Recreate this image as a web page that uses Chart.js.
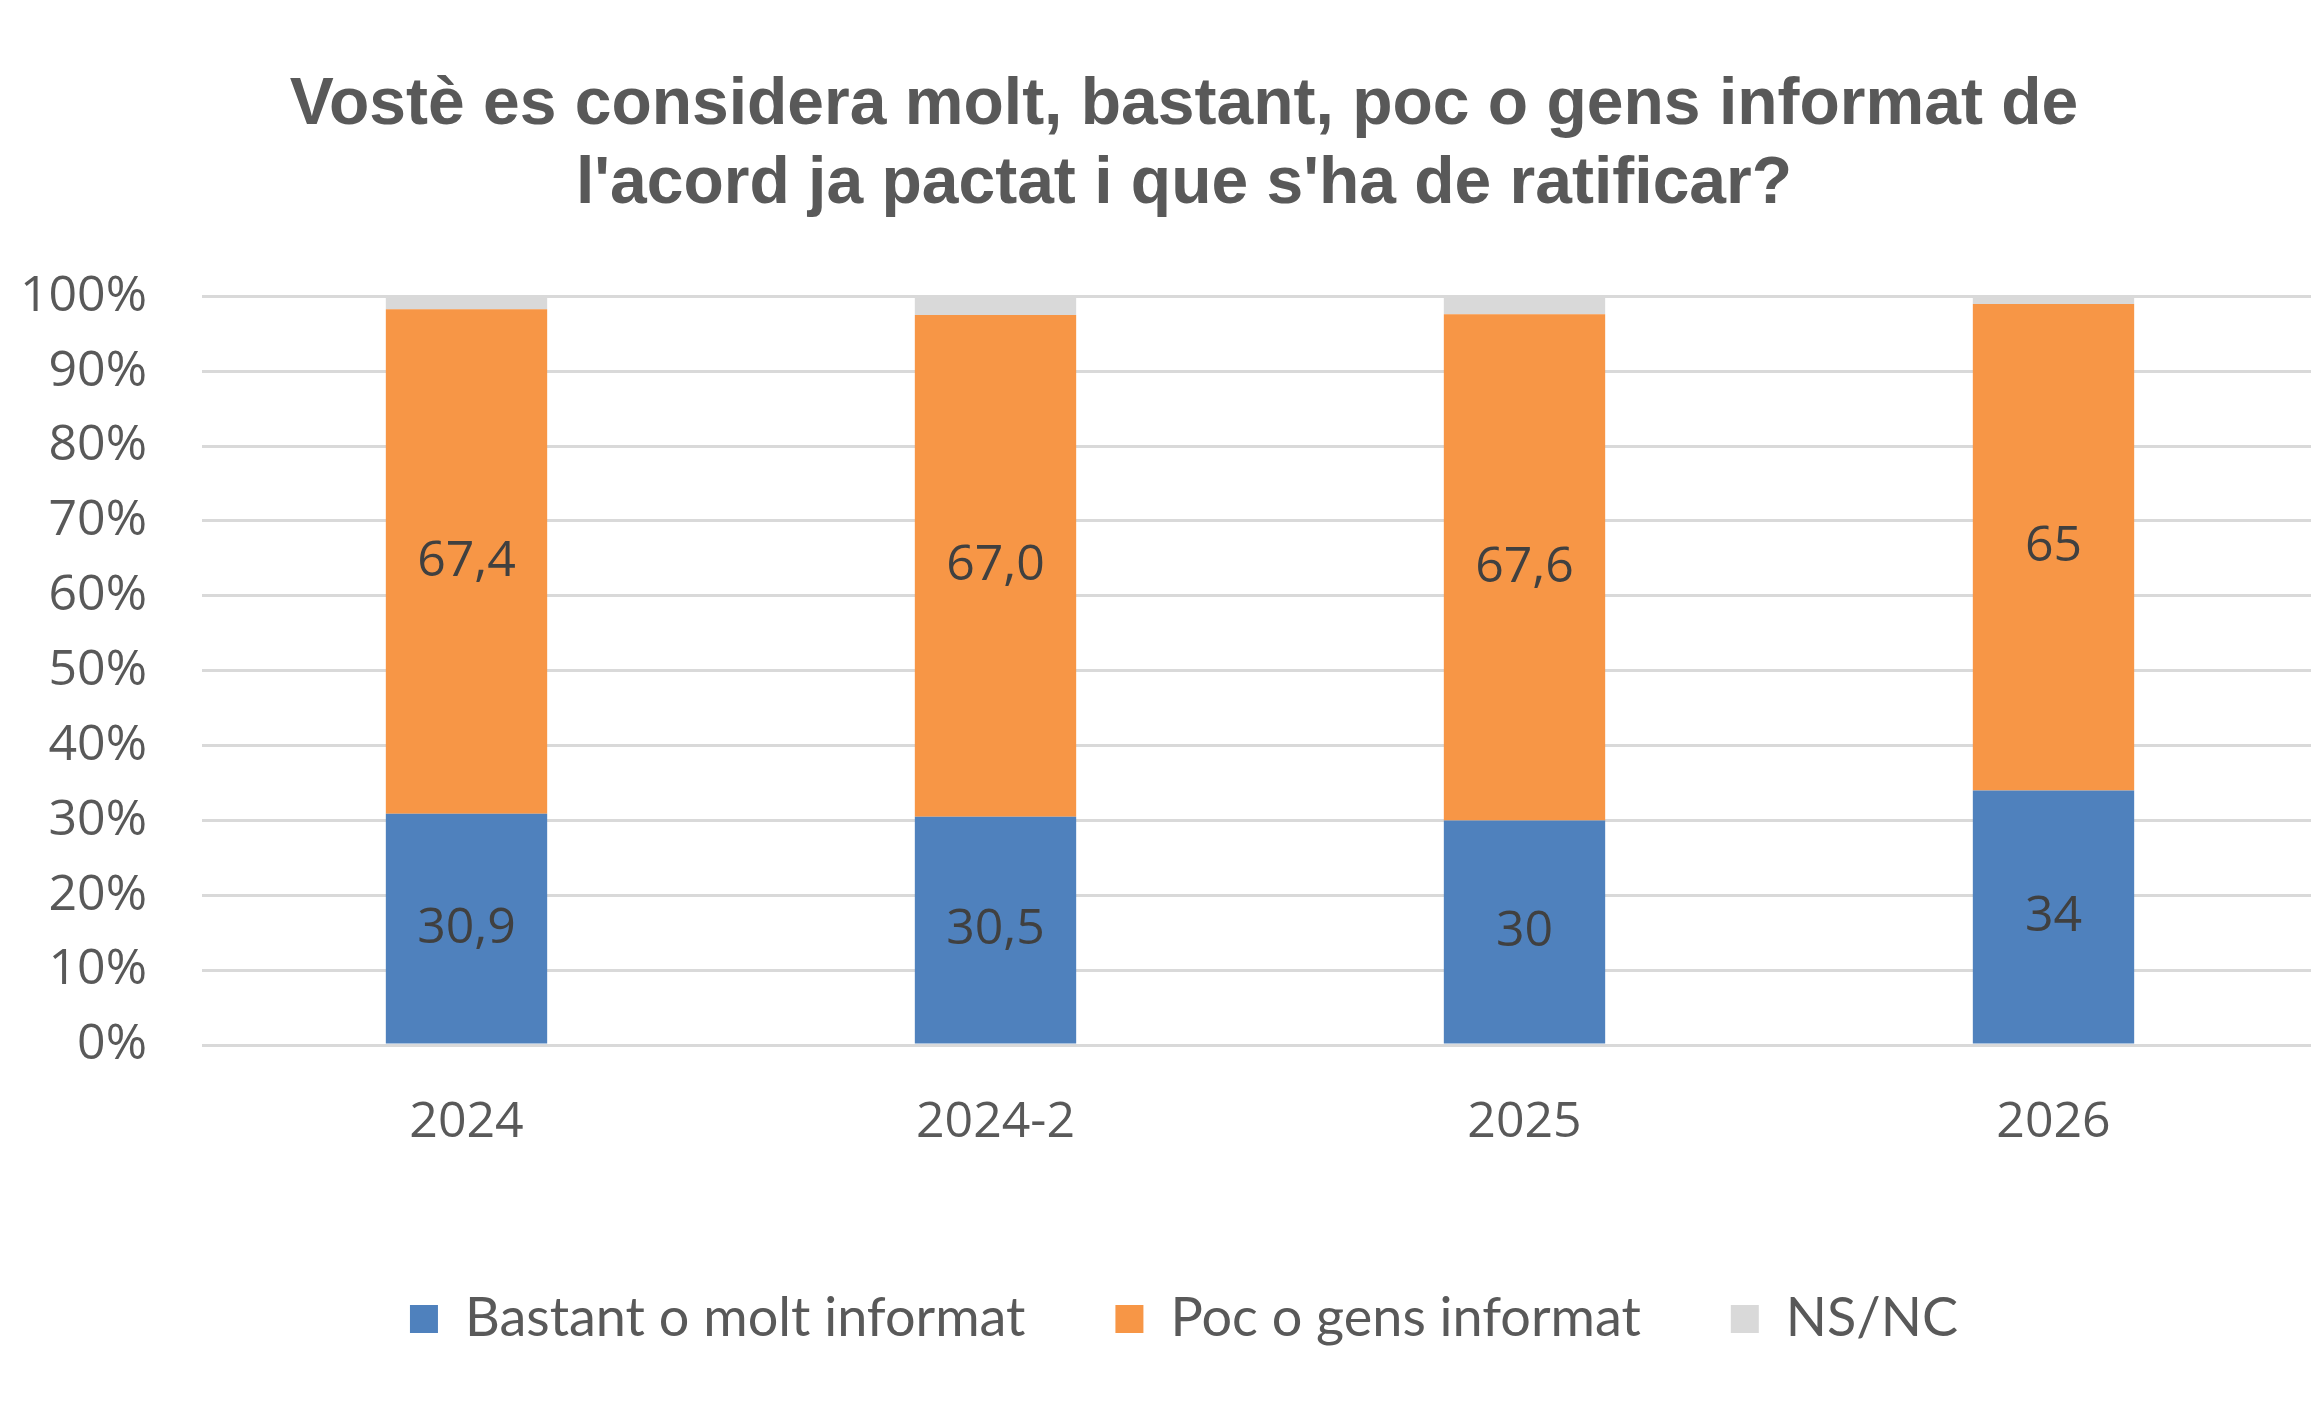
<!DOCTYPE html>
<html>
<head>
<meta charset="utf-8">
<title>Informat de l'acord</title>
<script src="https://cdn.jsdelivr.net/npm/chart.js@4.4.1/dist/chart.umd.min.js"></script>
<style>
  html, body { margin: 0; padding: 0; background: #fff; overflow: hidden; }
  canvas { display: block; }
</style>
</head>
<body>
<canvas id="myChart" width="2368" height="1404"></canvas>
<script>
const categories = ['2024', '2024-2', '2025', '2026'];
const bastant = [30.9, 30.5, 30, 34];
const poc = [67.4, 67.0, 67.6, 65];
const nsnc = [1.7, 2.5, 2.4, 1];
const bastantLabels = ['30,9', '30,5', '30', '34'];
const pocLabels = ['67,4', '67,0', '67,6', '65'];
const yTicks = [0, 10, 20, 30, 40, 50, 60, 70, 80, 90, 100];

// etiquetes dins de cada barra
const barLabels = {
  id: 'barLabels',
  afterDatasetsDraw(chart) {
    const ctx = chart.ctx;
    const texts = [bastantLabels, pocLabels];
    ctx.save();
    ctx.font = '50px "Open Sans"';
    ctx.fillStyle = '#404040';
    ctx.textAlign = 'center';
    ctx.textBaseline = 'middle';
    texts.forEach((list, i) => {
      chart.getDatasetMeta(i).data.forEach((bar, j) => {
        ctx.fillText(list[j], bar.x, (bar.y + bar.base) / 2);
      });
    });
    ctx.restore();
  }
};

const ctx = document.getElementById('myChart');

new Chart(ctx, {
  type: 'bar',
  data: {
    labels: categories,
    datasets: [{
      label: 'Bastant o molt informat',
      data: bastant,
      backgroundColor: '#4f81bd'
    }, {
      label: 'Poc o gens informat',
      data: poc,
      backgroundColor: '#f79646'
    }, {
      label: 'NS/NC',
      data: nsnc,
      backgroundColor: '#d9d9d9'
    }]
  },
  options: {
    responsive: false,
    animation: false,
    layout: { padding: { bottom: 48 } },
    datasets: {
      bar: { barPercentage: 0.305, categoryPercentage: 1 }
    },
    plugins: {
      title: {
        display: true,
        text: ['Vostè es considera molt, bastant, poc o gens informat de', "l'acord ja pactat i que s'ha de ratificar?"],
        color: '#595959',
        font: { family: '"Liberation Sans", Arial', size: 66, weight: 'bold', lineHeight: 1.2 },
        padding: { top: 66, bottom: 72 }
      },
      legend: {
        position: 'bottom',
        labels: {
          color: '#595959',
          font: { family: 'Lato', size: 54 },
          boxWidth: 28,
          boxHeight: 28,
          padding: 90
        }
      },
      tooltip: { enabled: false }
    },
    scales: {
      x: {
        stacked: true,
        grid: { display: false },
        border: { display: false },
        ticks: {
          color: '#595959',
          font: { family: '"Open Sans"', size: 50 },
          padding: 40
        },
        afterFit(scale) { scale.height = 157; }
      },
      y: {
        stacked: true,
        min: 0,
        max: 100,
        afterBuildTicks(scale) {
          scale.ticks = yTicks.map(v => ({ value: v }));
        },
        grid: { color: '#d9d9d9', lineWidth: 3, drawTicks: false },
        border: { display: false },
        ticks: {
          color: '#595959',
          font: { family: '"Open Sans"', size: 50 },
          padding: 55,
          callback: v => v + '%'
        },
        afterFit(scale) { scale.width = 202; }
      },
      // marge dret buit
      yRight: {
        position: 'right',
        grid: { display: false },
        border: { display: false },
        ticks: { display: false },
        afterFit(scale) { scale.width = 50; }
      }
    }
  },
  plugins: [barLabels]
});
</script>
</body>
</html>
